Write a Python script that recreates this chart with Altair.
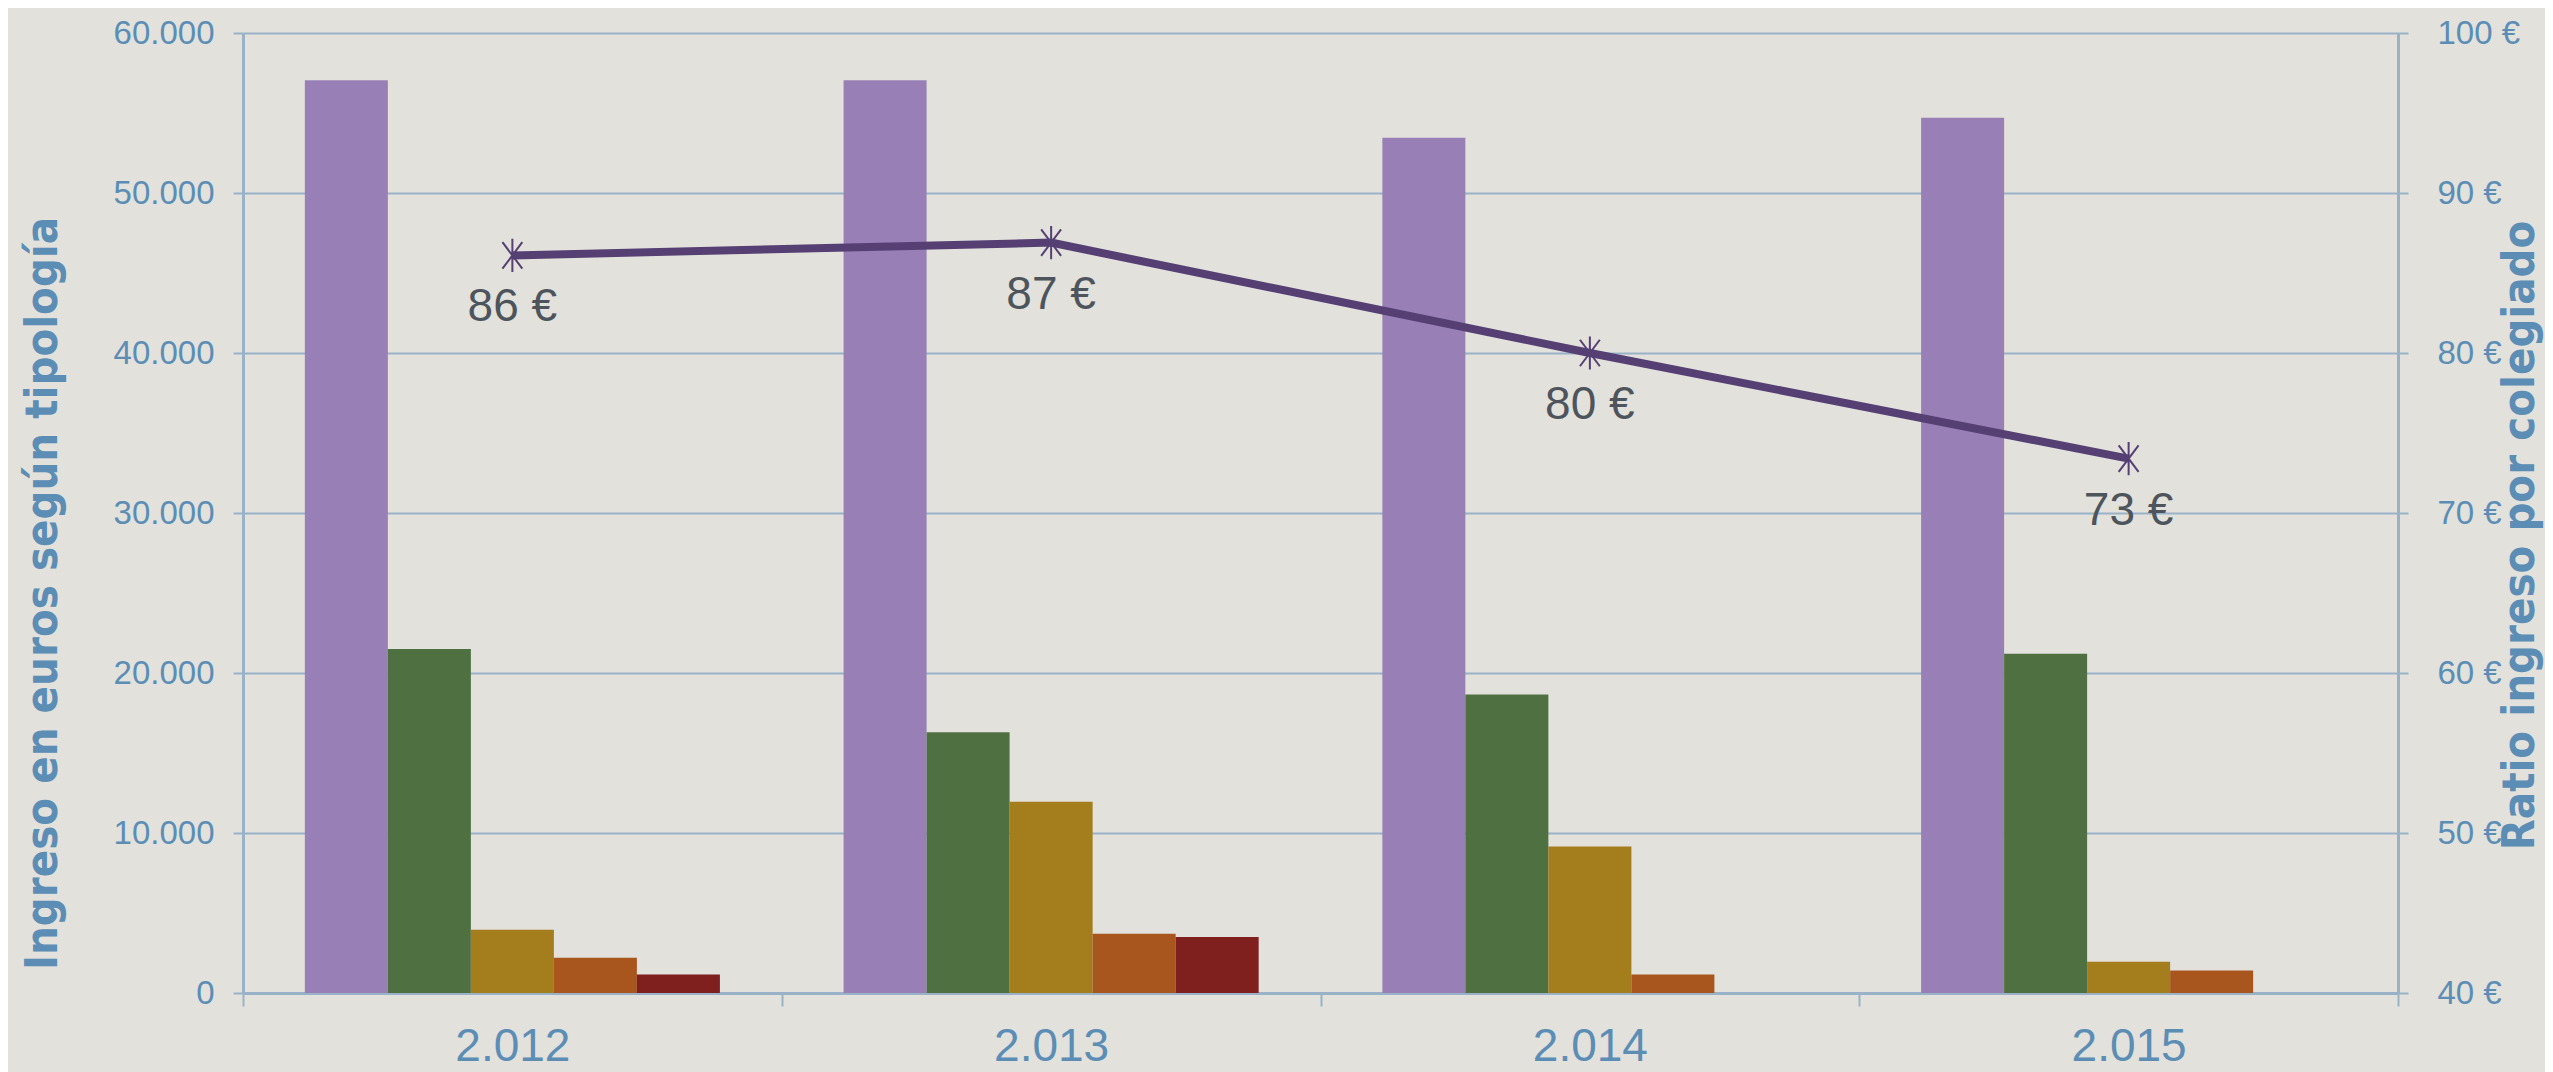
import altair as alt
import pandas as pd

# ---- data ----
years = ["2.012", "2.013", "2.014", "2.015"]
tipos = ["Tipología 1", "Tipología 2", "Tipología 3", "Tipología 4", "Tipología 5"]
tipologia_1 = [57050, 57050, 53450, 54700]
tipologia_2 = [21500, 16300, 18650, 21200]
tipologia_3 = [3950, 11950, 9150, 1950]
tipologia_4 = [2200, 3700, 1150, 1400]
tipologia_5 = [1150, 3500, None, None]
ratio = [86.1, 86.9, 80.0, 73.4]
ratio_labels = ["86 €", "87 €", "80 €", "73 €"]
left_ticks = [0, 10000, 20000, 30000, 40000, 50000, 60000]
right_ticks = [40, 50, 60, 70, 80, 90, 100]
bar_colors = ["#9880b6", "#4f7142", "#a47d1c", "#a9561e", "#7f1f1e"]

series = [tipologia_1, tipologia_2, tipologia_3, tipologia_4, tipologia_5]
rows = []
for t, vals in zip(tipos, series):
    for y, v in zip(years, vals):
        if v is not None:
            rows.append({"year": y, "tipo": t, "valor": v})
bar_df = pd.DataFrame(rows)
line_df = pd.DataFrame({"year": years, "ratio": ratio, "label": ratio_labels})

AX = "#9ab2c8"
LBL = "#5b8db5"
TITLE_FONT = "DejaVu Sans Condensed"

x_enc = alt.X(
    "year:N", sort=years,
    scale=alt.Scale(paddingInner=0, paddingOuter=0),
    axis=alt.Axis(
        title=None, labelAngle=0, tickBand="extent", grid=False,
        domainColor=AX, domainWidth=3, tickColor=AX, tickWidth=2, tickSize=13,
        labelFont="Liberation Sans", labelFontSize=46, labelColor=LBL, labelPadding=18,
    ),
)

bars = alt.Chart(bar_df).mark_bar().encode(
    x=x_enc,
    xOffset=alt.XOffset("tipo:N", sort=tipos,
                        scale=alt.Scale(domain=tipos, paddingInner=0, paddingOuter=0.745)),
    y=alt.Y(
        "valor:Q",
        scale=alt.Scale(domain=[0, 60000], nice=False),
        axis=alt.Axis(
            values=left_ticks, title="Ingreso en euros según tipología",
            labelExpr="replace(format(datum.value, ','), ',', '.')",
            domainColor=AX, domainWidth=3, tickColor=AX, tickWidth=2, tickSize=10,
            grid=True, gridColor=AX, gridWidth=2,
            labelFont="Liberation Sans", labelFontSize=33, labelColor=LBL, labelPadding=19,
            titleFont=TITLE_FONT, titleFontWeight="bold", titleFontSize=45, titleColor=LBL,
            titleAngle=270, titleAlign="center", titleBaseline="middle",
            titleX=-201, titleY=560,
        ),
    ),
    color=alt.Color("tipo:N", scale=alt.Scale(domain=tipos, range=bar_colors), legend=None),
)

y_right = alt.Y(
    "ratio:Q",
    scale=alt.Scale(domain=[40, 100], nice=False),
    axis=alt.Axis(
        orient="right", values=right_ticks, title="Ratio ingreso por colegiado",
        labelExpr="datum.value + ' €'", grid=False,
        domainColor=AX, domainWidth=3, tickColor=AX, tickWidth=2, tickSize=10,
        labelFont="Liberation Sans", labelFontSize=33, labelColor=LBL, labelPadding=29,
        titleFont=TITLE_FONT, titleFontWeight="bold", titleFontSize=45, titleColor=LBL,
        titleAngle=270, titleAlign="center", titleBaseline="middle",
        titleX=121, titleY=502,
    ),
)

star = "M0,-1L0,1M-0.6,-0.8L0.6,0.8M-0.6,0.8L0.6,-0.8"
line = alt.Chart().mark_line(color="#553f73", strokeWidth=8)
points = alt.Chart().mark_point(
    shape=star, size=1100, filled=False, strokeWidth=2, color="#553f73", opacity=1
)
labels = alt.Chart().mark_text(
    dy=52, fontSize=46, font="Liberation Sans", color="#4d545b"
).encode(text="label:N")

right_layer = alt.layer(line, points, labels, data=line_df).encode(
    x=alt.X("year:N", sort=years), y=y_right
)

chart = alt.layer(bars, right_layer).resolve_scale(y="independent").properties(
    width=2155, height=960,
    autosize=alt.AutoSizeParams(type="none"),
    padding={"left": 235, "top": 25, "right": 147, "bottom": 79},
    background="#e2e1dc",
).configure_view(stroke=None)

chart.save("out.html", embed_options={"renderer": "svg", "actions": False})
